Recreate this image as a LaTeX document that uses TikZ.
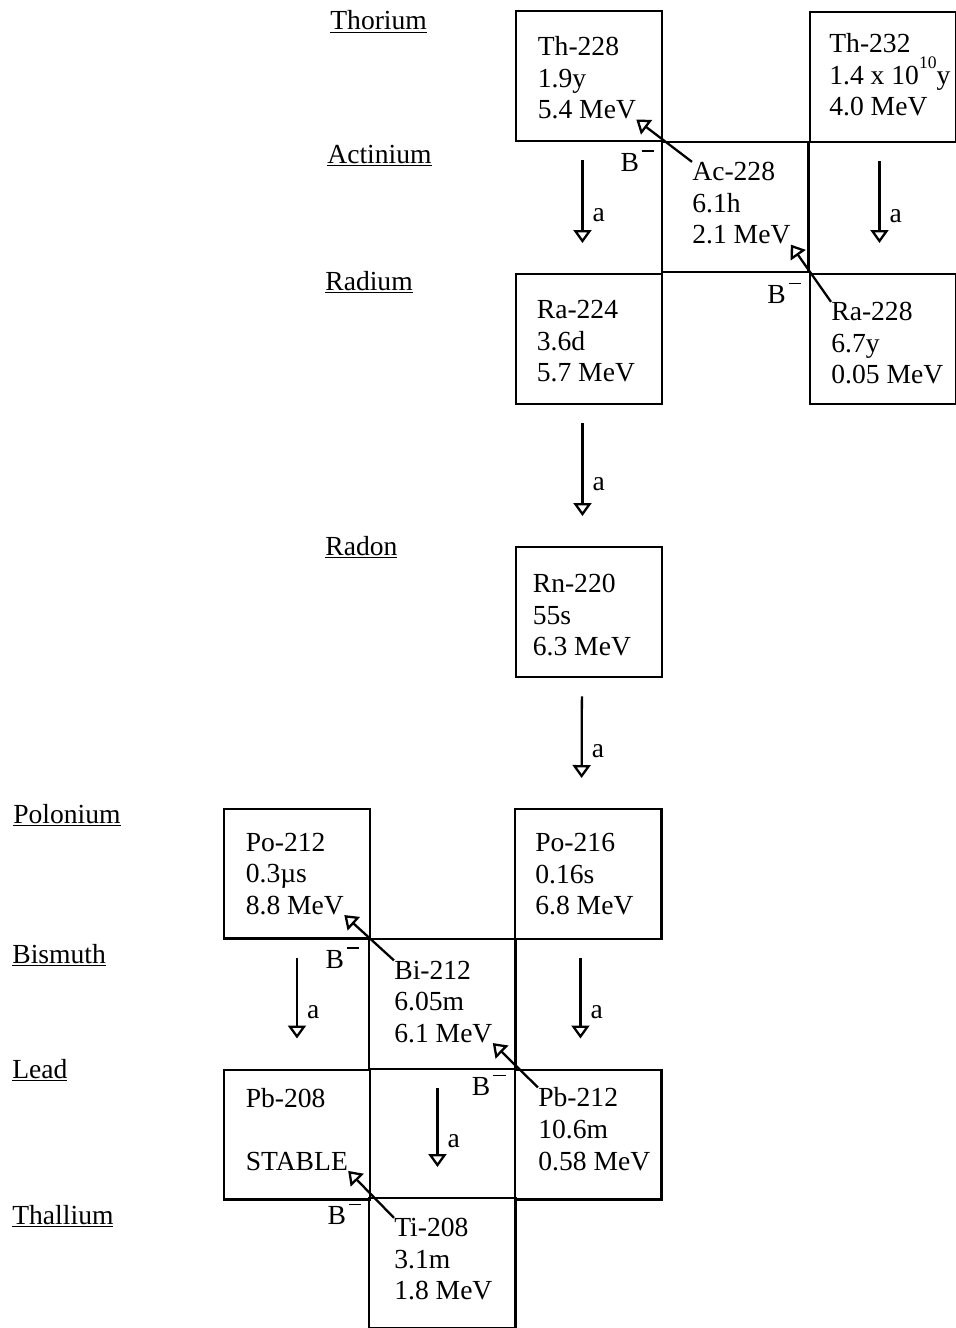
\documentclass[tikz,border=0pt]{standalone}
\usepackage{fontspec}
\setmainfont{Liberation Serif}
\usetikzlibrary{positioning,arrows.meta}

\begin{document}
\begin{tikzpicture}[x=0.02cm,y=-0.02cm,font=\fontsize{15.7}{18}\selectfont,
  cell/.style={draw,line width=1.4pt,anchor=north west,minimum width=2.93cm,minimum height=2.6cm,inner sep=0},
  info/.style={align=left,inner sep=0},
  adecay/.style={line width=1.3pt,-{Triangle[open,width=0.36cm,length=0.26cm]},shorten <=0.36cm,shorten >=0.6cm},
  bdecay/.style={line width=1.3pt,-{Triangle[open,width=0.36cm,length=0.26cm]}},
  alab/.style={pos=0.56,anchor=west,inner sep=0,xshift=0.18cm},
  blab/.style={pos=0.5,below left,inner sep=0.17cm}]
\useasboundingbox (0,0) rectangle (956,1328);
% element rows
\foreach \el/\x/\y in {Thorium/330/30,Actinium/327/163,Radium/325/290,Radon/325/555,Polonium/13/823,Bismuth/12/963,Lead/12/1078,Thallium/12/1224}{\node[anchor=base west,inner sep=0] (\el) at (\x,\y) {\underline{\el}};}
% boxes
\foreach \n/\x/\y in {th228/514.5/10,th232/809/11,ac228/661/141,ra224/514.5/273,ra228/809/273,rn220/514.5/546,po212/222.5/807.5,po216/514/808,bi212/368/938,pb208/222.5/1068.5,pb212/514/1068.5,ti208/368/1197}{\node[cell] (b\n) at (\x,\y) {};}
\node[info,right=0.46cm of bth228.west,yshift=-0.03cm] (th228) {Th-228\\1.9y\\5.4 MeV};
\node[info,right=0.40cm of bth232.west,yshift=0.05cm] (th232) {Th-232\\1.4 x 10\raisebox{0.55em}{\fontsize{10}{10}\selectfont 10}y\\4.0 MeV};
\node[info,right=0.62cm of bac228.west,yshift=0.08cm] (ac228) {Ac-228\\6.1h\\2.1 MeV};
\node[info,right=0.44cm of bra224.west,yshift=-0.04cm] (ra224) {Ra-224\\3.6d\\5.7 MeV};
\node[info,right=0.44cm of bra228.west,yshift=-0.08cm] (ra228) {Ra-228\\6.7y\\0.05 MeV};
\node[info,right=0.36cm of brn220.west,yshift=-0.06cm] (rn220) {Rn-220\\55s\\6.3 MeV};
\node[info,right=0.46cm of bpo212.west] (po212) {Po-212\\0.3µs\\8.8 MeV};
\node[info,right=0.42cm of bpo216.west] (po216) {Po-216\\0.16s\\6.8 MeV};
\node[info,right=0.52cm of bbi212.west,yshift=0.05cm] (bi212) {Bi-212\\6.05m\\6.1 MeV};
\node[info,right=0.46cm of bpb208.west,yshift=0.11cm] (pb208) {Pb-208\\[18pt]STABLE};
\node[info,right=0.48cm of bpb212.west,yshift=0.11cm] (pb212) {Pb-212\\10.6m\\0.58 MeV};
\node[info,right=0.52cm of bti208.west,yshift=0.08cm] (ti208) {Ti-208\\3.1m\\1.8 MeV};
% alpha decays
\foreach \a/\b/\s in {th228/ra224/-0.13,th232/ra228/-0.08,ra224/rn220/-0.13,rn220/po216/-0.14,po212/pb208/0,po216/pb212/-0.16,bi212/ti208/-0.1}{\draw[adecay] ([xshift=\s cm]b\a.south) -- ([xshift=\s cm]b\b.north) node[alab]{a};}
% beta decays
\foreach \a/\b in {ac228/th228,ra228/ac228,bi212/po212,pb212/bi212,ti208/pb208}{\draw[bdecay] (\a.north west) -- (\b.south east) node[blab]{B\hspace{0.06cm}\rule[0.7em]{0.25cm}{0.8pt}};}
\end{tikzpicture}
\end{document}
